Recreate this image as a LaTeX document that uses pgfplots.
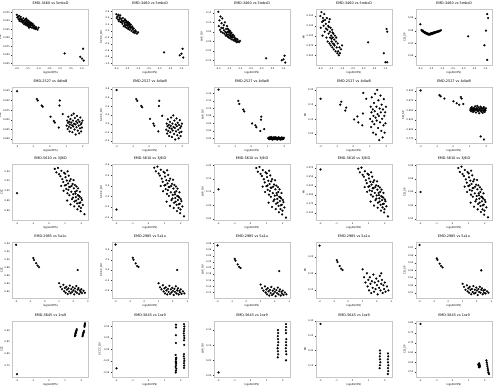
\documentclass[border=0pt]{standalone}
\usepackage{fontspec}
\setmainfont{DejaVu Sans}
\usepackage{pgfplots}
\pgfplotsset{compat=1.18}
\pgfplotsset{
  panel/.style={
    scale only axis, width=152pt, height=112pt, anchor=north west,
    axis line style={black!22, line width=0.5pt},
    tick style={black!80, line width=0.4pt},
    major tick length=2pt, tick align=outside,
    xtick pos=left, ytick pos=left,
    /pgf/number format/assume math mode=true,
    scaled ticks=false,
    ticklabel style={font=\fontsize{4.6}{5.5}\selectfont},
    label style={font=\fontsize{5.2}{6}\selectfont},
    title style={font=\fontsize{6.8}{8}\selectfont, yshift=-1pt},
    xlabel={log(AUCPS)},
    xlabel style={yshift=3pt}, ylabel style={yshift=-3pt},
    cycle list={{only marks, mark=*, mark size=0.6pt, black, mark options={solid, fill=black, draw=none}}},
  },
  xp/.style={xticklabel style={/pgf/number format/.cd, fixed, fixed zerofill, precision=#1}},
  yp/.style={yticklabel style={/pgf/number format/.cd, fixed, fixed zerofill, precision=#1}},
  rowone/.style={xmin=-2.2, xmax=1.3, xtick={-2,-1.5,-1,-0.5,0,0.5,1}, xp=1},
  rowgen/.style={xmin=-2.28, xmax=2.35, xtick={-2,-1,0,1,2}, xp=0},
}
\begin{document}
\begin{tikzpicture}
\useasboundingbox (0pt,0pt) rectangle (988pt,772pt);
% ================= ROW 1 =================
\begin{axis}[panel, rowone, at={(25pt,754pt)}, title={EMD-3460 vs 5mbxD}, ylabel={CCC},
  ymin=0.82, ymax=0.985, ytick={0.825,0.85,0.875,0.9,0.925,0.95,0.975}, yp=3]
\addplot coordinates {(-2.00,0.968) (-1.98,0.960) (-1.95,0.962) (-1.92,0.955) (-1.90,0.965) (-1.88,0.950) (-1.85,0.958) (-1.82,0.962) (-1.80,0.948) (-1.78,0.955) (-1.75,0.952) (-1.72,0.944) (-1.70,0.958) (-1.68,0.950) (-1.66,0.940) (-1.64,0.952) (-1.62,0.946) (-1.60,0.955) (-1.58,0.938) (-1.56,0.948) (-1.55,0.942) (-1.53,0.952) (-1.52,0.936) (-1.50,0.945) (-1.48,0.940) (-1.46,0.950) (-1.45,0.934) (-1.43,0.944) (-1.42,0.938) (-1.40,0.946) (-1.38,0.932) (-1.36,0.940) (-1.35,0.936) (-1.33,0.944) (-1.30,0.930) (-1.28,0.938) (-1.25,0.934) (-1.22,0.928) (-1.20,0.936) (-1.18,0.930) (-1.15,0.926) (-1.12,0.932) (-1.10,0.928) (-1.05,0.924) (-1.00,0.930)
(-1.86,0.953) (-1.74,0.947) (-1.61,0.942) (-1.49,0.951) (-1.37,0.944) (-1.27,0.941) (-1.44,0.930) (-1.57,0.957)
(0.20,0.854) (1.05,0.868) (0.92,0.844) (1.00,0.839) (1.08,0.833)};
\end{axis}
\begin{axis}[panel, rowone, at={(224pt,754pt)}, title={EMD-3460 vs 5mbxD}, ylabel={SCCC\_OV},
  ymin=-1.05, ymax=0.68, ytick={-1,-0.8,-0.6,-0.4,-0.2,0,0.2,0.4,0.6}, yp=1]
\addplot coordinates {(-2.00,0.52) (-1.98,0.40) (-1.95,0.45) (-1.92,0.35) (-1.90,0.50) (-1.88,0.30) (-1.85,0.42) (-1.82,0.48) (-1.80,0.28) (-1.78,0.38) (-1.75,0.33) (-1.72,0.22) (-1.70,0.40) (-1.68,0.30) (-1.66,0.15) (-1.64,0.32) (-1.62,0.25) (-1.60,0.36) (-1.58,0.12) (-1.56,0.26) (-1.55,0.18) (-1.53,0.30) (-1.52,0.10) (-1.50,0.22) (-1.48,0.16) (-1.46,0.28) (-1.45,0.06) (-1.43,0.20) (-1.42,0.12) (-1.40,0.24) (-1.38,0.04) (-1.36,0.15) (-1.35,0.10) (-1.33,0.20) (-1.30,0.00) (-1.28,0.10) (-1.25,0.05) (-1.22,-0.04) (-1.20,0.08) (-1.18,0.00) (-1.15,-0.06) (-1.12,0.02) (-1.10,-0.02) (-1.05,-0.08) (-1.00,-0.04)
(-1.86,0.36) (-1.74,0.27) (-1.61,0.19) (-1.49,0.26) (-1.37,0.18) (-1.27,0.14) (-1.44,0.09) (-1.57,0.33)
(0.20,-0.66) (1.05,-0.55) (0.92,-0.75) (1.00,-0.70) (1.08,-0.82)};
\end{axis}
\begin{axis}[panel, rowone, at={(428pt,754pt)}, title={EMD-3460 vs 5mbxD}, ylabel={LAP\_OV},
  ymin=-0.125, ymax=0.17, ytick={-0.1,-0.05,0,0.05,0.1,0.15}, yp=2]
\addplot coordinates {(-2.00,0.155) (-1.98,0.080) (-1.95,0.110) (-1.92,0.060) (-1.90,0.130) (-1.88,0.050) (-1.85,0.095) (-1.82,0.120) (-1.80,0.045) (-1.78,0.070) (-1.75,0.085) (-1.72,0.040) (-1.70,0.100) (-1.68,0.050) (-1.66,0.030) (-1.64,0.065) (-1.62,0.045) (-1.60,0.080) (-1.58,0.025) (-1.56,0.050) (-1.55,0.035) (-1.53,0.060) (-1.52,0.020) (-1.50,0.045) (-1.48,0.030) (-1.46,0.055) (-1.45,0.015) (-1.43,0.040) (-1.42,0.025) (-1.40,0.045) (-1.38,0.010) (-1.36,0.030) (-1.35,0.020) (-1.33,0.035) (-1.30,0.005) (-1.28,0.020) (-1.25,0.010) (-1.22,0.000) (-1.20,0.015) (-1.18,0.005) (-1.15,-0.005) (-1.12,0.010) (-1.10,0.000) (-1.05,-0.005) (-1.00,0.002)
(-1.86,0.070) (-1.74,0.058) (-1.61,0.036) (-1.49,0.052) (-1.37,0.022) (-1.27,0.028) (-1.44,0.034) (-1.57,0.066)
(0.20,-0.090) (1.05,-0.076) (0.92,-0.100) (1.00,-0.095) (1.08,-0.112)};
\end{axis}
\begin{axis}[panel, rowone, at={(632pt,754pt)}, title={EMD-3460 vs 5mbxD}, ylabel={MI},
  ymin=0.025, ymax=0.168, ytick={0.05,0.075,0.1,0.125,0.15}, yp=3]
\addplot coordinates {(-2.00,0.150) (-1.98,0.120) (-1.95,0.160) (-1.92,0.135) (-1.90,0.100) (-1.88,0.145) (-1.85,0.125) (-1.82,0.155) (-1.80,0.110) (-1.78,0.140) (-1.75,0.130) (-1.72,0.095) (-1.70,0.145) (-1.68,0.115) (-1.66,0.085) (-1.64,0.125) (-1.62,0.105) (-1.60,0.135) (-1.58,0.080) (-1.56,0.110) (-1.55,0.095) (-1.53,0.120) (-1.52,0.075) (-1.50,0.100) (-1.48,0.085) (-1.46,0.115) (-1.45,0.070) (-1.43,0.095) (-1.42,0.080) (-1.40,0.105) (-1.38,0.065) (-1.36,0.090) (-1.35,0.075) (-1.33,0.100) (-1.30,0.060) (-1.28,0.085) (-1.25,0.070) (-1.22,0.055) (-1.20,0.080) (-1.18,0.060) (-1.15,0.050) (-1.12,0.070) (-1.10,0.055) (-1.05,0.065) (-1.00,0.075)
(-1.86,0.138) (-1.74,0.118) (-1.61,0.122) (-1.49,0.092) (-1.37,0.078) (-1.27,0.095) (-1.44,0.108) (-1.57,0.142)
(0.20,0.083) (1.05,0.117) (1.08,0.110) (0.92,0.055) (1.00,0.032) (1.08,0.032)};
\end{axis}
\begin{axis}[panel, rowone, at={(832pt,754pt)}, title={EMD-3460 vs 5mbxD}, ylabel={CD\_SP},
  ymin=0.953, ymax=0.997, ytick={0.96,0.97,0.98,0.99}, yp=2]
\addplot coordinates {(-2.00,0.9850) (-1.95,0.9805) (-1.92,0.9800) (-1.90,0.9795) (-1.88,0.9800) (-1.85,0.9790) (-1.82,0.9785) (-1.80,0.9790) (-1.78,0.9780) (-1.75,0.9785) (-1.72,0.9775) (-1.70,0.9780) (-1.68,0.9772) (-1.66,0.9778) (-1.64,0.9770) (-1.62,0.9775) (-1.60,0.9768) (-1.58,0.9774) (-1.56,0.9770) (-1.55,0.9776) (-1.53,0.9771) (-1.52,0.9778) (-1.50,0.9773) (-1.48,0.9779) (-1.46,0.9775) (-1.45,0.9781) (-1.43,0.9777) (-1.42,0.9783) (-1.40,0.9779) (-1.38,0.9785) (-1.36,0.9781) (-1.35,0.9787) (-1.33,0.9783) (-1.30,0.9789) (-1.28,0.9786) (-1.25,0.9792) (-1.22,0.9789) (-1.20,0.9794) (-1.18,0.9792) (-1.15,0.9797) (-1.12,0.9795) (-1.10,0.9800) (-1.05,0.9803)
(0.20,0.9755) (1.08,0.9930) (1.12,0.9900) (1.02,0.9800) (0.95,0.9685) (1.08,0.9570)};
\end{axis}
% ================= ROW 2 =================
\begin{axis}[panel, rowgen, at={(25pt,598pt)}, title={EMD-2527 vs 4dlwB}, ylabel={CCC},
  ymin=0.79, ymax=0.935, ytick={0.8,0.825,0.85,0.875,0.9,0.925}, yp=3]
\addplot coordinates {(-2.0,0.924) (-0.8,0.904) (-0.74,0.900) (-0.5,0.887) (-0.44,0.884) (0.6,0.900) (0.58,0.887) (0.04,0.858) (0.24,0.847) (0.3,0.843) (0.54,0.830) (0.78,0.865)
(1.02,0.835) (1.05,0.848) (1.08,0.826) (1.10,0.842) (1.12,0.858) (1.15,0.832) (1.18,0.845) (1.20,0.820) (1.22,0.838) (1.25,0.852) (1.27,0.829) (1.30,0.843) (1.32,0.862) (1.35,0.836) (1.37,0.818) (1.40,0.848) (1.42,0.833) (1.45,0.866) (1.47,0.840) (1.50,0.825) (1.52,0.855) (1.55,0.838) (1.57,0.812) (1.60,0.846) (1.62,0.831) (1.65,0.860) (1.67,0.842) (1.70,0.822) (1.72,0.850) (1.75,0.835) (1.78,0.815) (1.80,0.845) (1.83,0.828) (1.85,0.856) (1.88,0.838) (1.90,0.820) (1.93,0.842) (1.95,0.830) (1.98,0.848)};
\end{axis}
\begin{axis}[panel, rowgen, at={(224pt,598pt)}, title={EMD-2527 vs 4dlwB}, ylabel={SCCC\_OV},
  ymin=-0.45, ymax=0.85, ytick={-0.4,-0.2,0,0.2,0.4,0.6,0.8}, yp=1]
\addplot coordinates {(-2.0,0.78) (-0.8,0.57) (-0.74,0.53) (-0.5,0.41) (-0.44,0.38) (0.6,0.53) (0.58,0.41) (0.04,0.11) (0.24,0.00) (0.3,-0.05) (0.54,-0.18) (0.78,0.18)
(1.02,-0.14) (1.05,0.00) (1.08,-0.23) (1.10,-0.06) (1.12,0.10) (1.15,-0.17) (1.18,-0.03) (1.20,-0.29) (1.22,-0.10) (1.25,0.04) (1.27,-0.20) (1.30,-0.05) (1.32,0.14) (1.35,-0.12) (1.37,-0.31) (1.40,0.00) (1.42,-0.16) (1.45,0.19) (1.47,-0.08) (1.50,-0.24) (1.52,0.07) (1.55,-0.10) (1.57,-0.37) (1.60,-0.02) (1.62,-0.18) (1.65,0.12) (1.67,-0.06) (1.70,-0.27) (1.72,0.02) (1.75,-0.14) (1.78,-0.34) (1.80,-0.03) (1.83,-0.21) (1.85,0.08) (1.88,-0.10) (1.90,-0.29) (1.93,-0.06) (1.95,-0.19) (1.98,0.00)};
\end{axis}
\begin{axis}[panel, rowgen, at={(428pt,598pt)}, title={EMD-2527 vs 4dlwB}, ylabel={LAP\_OV},
  ymin=0.008, ymax=0.157, ytick={0.02,0.04,0.06,0.08,0.1,0.12,0.14}, yp=2]
\addplot coordinates {(-2.0,0.150) (-0.8,0.120) (-0.74,0.112) (-0.5,0.097) (-0.44,0.092) (0.6,0.078) (0.58,0.070) (0.04,0.060) (0.24,0.055) (0.3,0.050) (0.54,0.040) (0.78,0.045)
(1.02,0.021) (1.05,0.019) (1.08,0.023) (1.10,0.020) (1.12,0.018) (1.15,0.022) (1.18,0.020) (1.20,0.024) (1.22,0.019) (1.25,0.021) (1.27,0.017) (1.30,0.022) (1.32,0.020) (1.35,0.023) (1.37,0.018) (1.40,0.021) (1.42,0.019) (1.45,0.024) (1.47,0.020) (1.50,0.018) (1.52,0.022) (1.55,0.020) (1.57,0.017) (1.60,0.021) (1.62,0.019) (1.65,0.023) (1.67,0.020) (1.70,0.018) (1.72,0.022) (1.75,0.020) (1.78,0.017) (1.80,0.021) (1.83,0.019) (1.85,0.023) (1.88,0.020) (1.90,0.018) (1.93,0.021) (1.95,0.019) (1.98,0.022)};
\end{axis}
\begin{axis}[panel, rowgen, at={(632pt,598pt)}, title={EMD-2527 vs 4dlwB}, ylabel={MI},
  ymin=0.02, ymax=0.21, ytick={0.05,0.1,0.15,0.2}, yp=2]
\addplot coordinates {(-2.0,0.170) (-0.8,0.150) (-0.74,0.160) (-0.5,0.130) (-0.44,0.140) (0.6,0.190) (0.58,0.120) (0.04,0.100) (0.24,0.110) (0.3,0.090) (0.54,0.080) (0.78,0.170)
(1.02,0.102) (1.05,0.143) (1.08,0.074) (1.10,0.124) (1.12,0.175) (1.15,0.093) (1.18,0.134) (1.20,0.055) (1.22,0.112) (1.25,0.156) (1.27,0.084) (1.30,0.128) (1.32,0.187) (1.35,0.106) (1.37,0.049) (1.40,0.143) (1.42,0.096) (1.45,0.200) (1.47,0.118) (1.50,0.071) (1.52,0.165) (1.55,0.112) (1.57,0.030) (1.60,0.137) (1.62,0.090) (1.65,0.181) (1.67,0.124) (1.70,0.061) (1.72,0.150) (1.75,0.102) (1.78,0.039) (1.80,0.134) (1.83,0.080) (1.85,0.169) (1.88,0.112) (1.90,0.055) (1.93,0.124) (1.95,0.087) (1.98,0.143)};
\end{axis}
\begin{axis}[panel, rowgen, at={(832pt,598pt)}, title={EMD-2527 vs 4dlwB}, ylabel={CD\_SP},
  ymin=0.765, ymax=0.91, ytick={0.775,0.8,0.825,0.85,0.875,0.9}, yp=3]
\addplot coordinates {(-2.0,0.901) (-0.85,0.889) (-0.78,0.886) (-0.55,0.880) (0.0,0.873) (0.45,0.884) (0.5,0.880) (0.35,0.864) (0.6,0.866) (0.2,0.868)
(1.02,0.850) (1.05,0.855) (1.08,0.847) (1.10,0.853) (1.12,0.858) (1.15,0.849) (1.18,0.854) (1.20,0.845) (1.22,0.851) (1.25,0.856) (1.27,0.848) (1.30,0.853) (1.32,0.860) (1.35,0.851) (1.37,0.844) (1.40,0.855) (1.42,0.850) (1.45,0.861) (1.47,0.852) (1.50,0.847) (1.52,0.857) (1.55,0.851) (1.57,0.842) (1.60,0.854) (1.62,0.849) (1.65,0.859) (1.67,0.853) (1.70,0.846) (1.72,0.856) (1.75,0.850) (1.78,0.843) (1.80,0.854) (1.83,0.848) (1.85,0.858) (1.88,0.851) (1.90,0.845) (1.93,0.853) (1.95,0.849) (1.98,0.855)
(1.66,0.782) (1.86,0.774)};
\end{axis}
% ================= ROW 3 =================
\begin{axis}[panel, rowgen, xmax=2.45, at={(25pt,444pt)}, title={EMD-5610 vs 3j9iD}, ylabel={CCC},
  ymin=0.84, ymax=0.955, ytick={0.86,0.88,0.9,0.92,0.94}, yp=2]
\addplot coordinates {(-2.0,0.895)
(0.35,0.945) (0.45,0.938) (0.55,0.947) (0.62,0.934) (0.70,0.930) (0.76,0.941) (0.82,0.924) (0.88,0.918) (0.93,0.937) (0.98,0.911) (1.02,0.928) (1.06,0.904) (1.10,0.921) (1.14,0.895) (1.18,0.915) (1.22,0.931) (1.26,0.891) (1.30,0.908) (1.34,0.924) (1.38,0.898) (1.42,0.883) (1.46,0.914) (1.50,0.893) (1.54,0.905) (1.58,0.878) (1.62,0.898) (1.66,0.887) (1.70,0.909) (1.74,0.874) (1.78,0.891) (1.82,0.883) (1.86,0.868) (1.90,0.888) (1.94,0.876) (1.98,0.865) (2.04,0.881) (2.10,0.871) (2.20,0.852)
(1.05,0.912) (1.12,0.880) (1.20,0.902) (1.28,0.920) (1.33,0.872) (1.40,0.910) (1.48,0.886) (1.52,0.922) (1.56,0.868) (1.60,0.912) (1.64,0.894) (1.68,0.880) (1.72,0.900) (1.76,0.862) (1.80,0.905) (1.84,0.890) (1.88,0.875) (1.92,0.898) (1.96,0.858) (2.00,0.885) (0.75,0.910) (0.90,0.900) (1.00,0.935) (1.15,0.940) (1.25,0.908)};
\end{axis}
\begin{axis}[panel, rowgen, xmax=2.45, at={(224pt,444pt)}, title={EMD-5610 vs 3j9iD}, ylabel={SCCC\_OV},
  ymin=-0.45, ymax=0.62, ytick={-0.4,-0.2,0,0.2,0.4,0.6}, yp=1]
\addplot coordinates {(-2.0,-0.25)
(0.35,0.55) (0.45,0.48) (0.55,0.57) (0.62,0.44) (0.70,0.40) (0.76,0.51) (0.82,0.34) (0.88,0.28) (0.93,0.47) (0.98,0.21) (1.02,0.38) (1.06,0.14) (1.10,0.31) (1.14,0.05) (1.18,0.25) (1.22,0.41) (1.26,0.01) (1.30,0.18) (1.34,0.34) (1.38,0.08) (1.42,-0.07) (1.46,0.24) (1.50,0.03) (1.54,0.15) (1.58,-0.12) (1.62,0.08) (1.66,-0.03) (1.70,0.19) (1.74,-0.16) (1.78,0.01) (1.82,-0.07) (1.86,-0.22) (1.90,-0.02) (1.94,-0.14) (1.98,-0.25) (2.04,-0.09) (2.10,-0.19) (2.20,-0.38)
(1.05,0.22) (1.12,-0.10) (1.20,0.12) (1.28,0.30) (1.33,-0.18) (1.40,0.20) (1.48,-0.04) (1.52,0.32) (1.56,-0.22) (1.60,0.22) (1.64,0.04) (1.68,-0.10) (1.72,0.10) (1.76,-0.28) (1.80,0.15) (1.84,0.00) (1.88,-0.15) (1.92,0.08) (1.96,-0.32) (2.00,-0.05) (0.75,0.20) (0.90,0.10) (1.00,0.45) (1.15,0.50) (1.25,0.18)};
\end{axis}
\begin{axis}[panel, rowgen, xmax=2.45, at={(428pt,444pt)}, title={EMD-5610 vs 3j9iD}, ylabel={LAP\_OV},
  ymin=-0.005, ymax=0.205, ytick={0,0.05,0.1,0.15,0.2}, yp=2]
\addplot coordinates {(-2.0,0.110)
(0.35,0.190) (0.45,0.176) (0.55,0.194) (0.62,0.168) (0.70,0.160) (0.76,0.182) (0.82,0.148) (0.88,0.136) (0.93,0.174) (0.98,0.122) (1.02,0.156) (1.06,0.108) (1.10,0.142) (1.14,0.090) (1.18,0.130) (1.22,0.162) (1.26,0.082) (1.30,0.116) (1.34,0.148) (1.38,0.096) (1.42,0.066) (1.46,0.128) (1.50,0.086) (1.54,0.110) (1.58,0.056) (1.62,0.096) (1.66,0.074) (1.70,0.118) (1.74,0.048) (1.78,0.082) (1.82,0.066) (1.86,0.036) (1.90,0.076) (1.94,0.052) (1.98,0.030) (2.04,0.062) (2.10,0.042) (2.20,0.004)
(1.05,0.124) (1.12,0.060) (1.20,0.104) (1.28,0.140) (1.33,0.044) (1.40,0.120) (1.48,0.072) (1.52,0.144) (1.56,0.036) (1.60,0.124) (1.64,0.088) (1.68,0.060) (1.72,0.100) (1.76,0.024) (1.80,0.110) (1.84,0.080) (1.88,0.050) (1.92,0.096) (1.96,0.016) (2.00,0.070) (0.75,0.120) (0.90,0.100) (1.00,0.170) (1.15,0.180) (1.25,0.116)};
\end{axis}
\begin{axis}[panel, rowgen, xmax=2.45, at={(632pt,444pt)}, title={EMD-5610 vs 3j9iD}, ylabel={MI},
  ymin=0.13, ymax=0.285, ytick={0.15,0.175,0.2,0.225,0.25,0.275}, yp=3]
\addplot coordinates {(-2.0,0.270)
(0.35,0.272) (0.45,0.262) (0.55,0.275) (0.62,0.255) (0.70,0.250) (0.76,0.265) (0.82,0.240) (0.88,0.232) (0.93,0.258) (0.98,0.222) (1.02,0.245) (1.06,0.212) (1.10,0.236) (1.14,0.200) (1.18,0.228) (1.22,0.250) (1.26,0.195) (1.30,0.218) (1.34,0.240) (1.38,0.205) (1.42,0.185) (1.46,0.226) (1.50,0.198) (1.54,0.214) (1.58,0.178) (1.62,0.205) (1.66,0.190) (1.70,0.220) (1.74,0.172) (1.78,0.196) (1.82,0.185) (1.86,0.165) (1.90,0.192) (1.94,0.175) (1.98,0.160) (2.04,0.182) (2.10,0.168) (2.20,0.140)
(1.05,0.224) (1.12,0.181) (1.20,0.210) (1.28,0.235) (1.33,0.170) (1.40,0.221) (1.48,0.189) (1.52,0.237) (1.56,0.164) (1.60,0.224) (1.64,0.199) (1.68,0.181) (1.72,0.208) (1.76,0.156) (1.80,0.214) (1.84,0.194) (1.88,0.174) (1.92,0.205) (1.96,0.151) (2.00,0.187) (0.75,0.221) (0.90,0.208) (1.00,0.255) (1.15,0.262) (1.25,0.218)};
\end{axis}
\begin{axis}[panel, rowgen, xmax=2.45, at={(832pt,444pt)}, title={EMD-5610 vs 3j9iD}, ylabel={CD\_SP},
  ymin=0.898, ymax=0.982, ytick={0.9,0.92,0.94,0.96,0.98}, yp=2]
\addplot coordinates {(-2.0,0.940)
(0.35,0.976) (0.45,0.970) (0.55,0.978) (0.62,0.967) (0.70,0.964) (0.76,0.973) (0.82,0.959) (0.88,0.954) (0.93,0.970) (0.98,0.949) (1.02,0.962) (1.06,0.943) (1.10,0.957) (1.14,0.936) (1.18,0.952) (1.22,0.965) (1.26,0.933) (1.30,0.946) (1.34,0.959) (1.38,0.938) (1.42,0.926) (1.46,0.951) (1.50,0.934) (1.54,0.944) (1.58,0.922) (1.62,0.938) (1.66,0.930) (1.70,0.947) (1.74,0.919) (1.78,0.933) (1.82,0.926) (1.86,0.914) (1.90,0.930) (1.94,0.921) (1.98,0.912) (2.04,0.925) (2.10,0.917) (2.20,0.902)
(1.05,0.950) (1.12,0.924) (1.20,0.942) (1.28,0.956) (1.33,0.918) (1.40,0.948) (1.48,0.929) (1.52,0.958) (1.56,0.914) (1.60,0.950) (1.64,0.935) (1.68,0.924) (1.72,0.940) (1.76,0.910) (1.80,0.944) (1.84,0.932) (1.88,0.920) (1.92,0.938) (1.96,0.906) (2.00,0.928) (0.75,0.948) (0.90,0.940) (1.00,0.968) (1.15,0.972) (1.25,0.946)};
\end{axis}
% ================= ROW 4 =================
\begin{axis}[panel, at={(25pt,288pt)}, xmin=-2.25, xmax=3.05, xtick={-2,-1,0,1,2,3}, xp=0, title={EMD-2985 vs 5a1u}, ylabel={CCC},
  ymin=0.805, ymax=0.945, ytick={0.82,0.84,0.86,0.88,0.9,0.92,0.94}, yp=2]
\addplot coordinates {(-2.0,0.938) (-0.8,0.905) (-0.75,0.900) (-0.6,0.892) (-0.5,0.886) (-0.4,0.882) (2.3,0.875)
(1.00,0.842) (1.10,0.833) (1.20,0.827) (1.30,0.838) (1.35,0.822) (1.40,0.830) (1.45,0.818) (1.50,0.833) (1.55,0.826) (1.60,0.815) (1.65,0.829) (1.70,0.821) (1.75,0.836) (1.80,0.817) (1.85,0.827) (1.90,0.820) (1.95,0.832) (2.00,0.824) (2.05,0.814) (2.10,0.829) (2.15,0.821) (2.20,0.835) (2.25,0.818) (2.30,0.826) (2.35,0.830) (2.40,0.815) (2.45,0.824) (2.50,0.820) (2.55,0.827) (2.60,0.817) (2.70,0.823) (2.80,0.818)};
\end{axis}
\begin{axis}[panel, at={(224pt,288pt)}, xmin=-2.25, xmax=3.05, xtick={-2,-1,0,1,2,3}, xp=0, title={EMD-2985 vs 5a1u}, ylabel={SCCC\_OV},
  ymin=-0.55, ymax=0.55, ytick={-0.4,-0.2,0,0.2,0.4}, yp=1]
\addplot coordinates {(-2.0,0.50) (-0.8,0.24) (-0.75,0.20) (-0.6,0.13) (-0.5,0.08) (-0.4,0.06) (2.3,0.00)
(1.00,-0.26) (1.10,-0.34) (1.20,-0.38) (1.30,-0.30) (1.35,-0.42) (1.40,-0.36) (1.45,-0.46) (1.50,-0.34) (1.55,-0.40) (1.60,-0.48) (1.65,-0.37) (1.70,-0.43) (1.75,-0.31) (1.80,-0.47) (1.85,-0.38) (1.90,-0.44) (1.95,-0.35) (2.00,-0.41) (2.05,-0.49) (2.10,-0.37) (2.15,-0.43) (2.20,-0.32) (2.25,-0.46) (2.30,-0.40) (2.35,-0.36) (2.40,-0.48) (2.45,-0.41) (2.50,-0.44) (2.55,-0.38) (2.60,-0.47) (2.70,-0.42) (2.80,-0.46)};
\end{axis}
\begin{axis}[panel, at={(428pt,288pt)}, xmin=-2.25, xmax=3.05, xtick={-2,-1,0,1,2,3}, xp=0, title={EMD-2985 vs 5a1u}, ylabel={LAP\_OV},
  ymin=0.102, ymax=0.285, ytick={0.12,0.14,0.16,0.18,0.2,0.22,0.24,0.26,0.28}, yp=2]
\addplot coordinates {(-2.0,0.274) (-0.8,0.230) (-0.75,0.224) (-0.6,0.212) (-0.5,0.204) (-0.4,0.200) (2.3,0.190)
(1.00,0.146) (1.10,0.134) (1.20,0.126) (1.30,0.140) (1.35,0.120) (1.40,0.130) (1.45,0.114) (1.50,0.134) (1.55,0.124) (1.60,0.110) (1.65,0.128) (1.70,0.118) (1.75,0.138) (1.80,0.112) (1.85,0.126) (1.90,0.116) (1.95,0.132) (2.00,0.122) (2.05,0.108) (2.10,0.128) (2.15,0.118) (2.20,0.136) (2.25,0.114) (2.30,0.124) (2.35,0.130) (2.40,0.110) (2.45,0.122) (2.50,0.116) (2.55,0.126) (2.60,0.112) (2.70,0.120) (2.80,0.114)};
\end{axis}
\begin{axis}[panel, at={(632pt,288pt)}, xmin=-2.25, xmax=3.05, xtick={-2,-1,0,1,2,3}, xp=0, title={EMD-2985 vs 5a1u}, ylabel={MI},
  ymin=0.125, ymax=0.295, ytick={0.15,0.2,0.25}, yp=2]
\addplot coordinates {(-2.0,0.284) (-0.8,0.240) (-0.75,0.234) (-0.6,0.222) (-0.5,0.214) (-0.4,0.210) (2.3,0.200)
(1.00,0.212) (1.10,0.188) (1.20,0.172) (1.30,0.200) (1.35,0.160) (1.40,0.180) (1.45,0.148) (1.50,0.188) (1.55,0.168) (1.60,0.140) (1.65,0.176) (1.70,0.156) (1.75,0.196) (1.80,0.144) (1.85,0.172) (1.90,0.152) (1.95,0.184) (2.00,0.164) (2.05,0.136) (2.10,0.176) (2.15,0.156) (2.20,0.192) (2.25,0.148) (2.30,0.168) (2.35,0.180) (2.40,0.140) (2.45,0.164) (2.50,0.152) (2.55,0.172) (2.60,0.144) (2.70,0.160) (2.80,0.148)};
\end{axis}
\begin{axis}[panel, at={(832pt,288pt)}, xmin=-2.25, xmax=3.05, xtick={-2,-1,0,1,2,3}, xp=0, title={EMD-2985 vs 5a1u}, ylabel={CD\_SP},
  ymin=0.903, ymax=0.978, ytick={0.91,0.92,0.93,0.94,0.95,0.96,0.97}, yp=2]
\addplot coordinates {(-2.0,0.974) (-0.8,0.956) (-0.75,0.954) (-0.6,0.949) (-0.5,0.946) (-0.4,0.944) (2.3,0.940)
(1.00,0.922) (1.10,0.918) (1.20,0.914) (1.30,0.920) (1.35,0.912) (1.40,0.916) (1.45,0.910) (1.50,0.918) (1.55,0.914) (1.60,0.908) (1.65,0.915) (1.70,0.911) (1.75,0.919) (1.80,0.909) (1.85,0.914) (1.90,0.910) (1.95,0.917) (2.00,0.913) (2.05,0.907) (2.10,0.915) (2.15,0.911) (2.20,0.918) (2.25,0.910) (2.30,0.914) (2.35,0.916) (2.40,0.908) (2.45,0.913) (2.50,0.910) (2.55,0.914) (2.60,0.909) (2.70,0.912) (2.80,0.910)};
\end{axis}
% ================= ROW 5 =================
\begin{axis}[panel, rowgen, xmax=2.45, at={(25pt,130pt)}, title={EMD-5645 vs 1ra9}, ylabel={CCC},
  ymin=0.70, ymax=0.94, ytick={0.75,0.8,0.85,0.9}, yp=2]
\addplot coordinates {(-2.0,0.712)
(1.60,0.875) (1.62,0.880) (1.64,0.885) (1.65,0.888) (1.66,0.890) (1.68,0.895) (1.70,0.900) (1.72,0.905) (1.63,0.878) (1.67,0.893)
(2.08,0.875) (2.10,0.880) (2.12,0.886) (2.14,0.890) (2.15,0.893) (2.17,0.898) (2.20,0.915) (2.21,0.920) (2.22,0.925) (2.23,0.930)};
\end{axis}
\begin{axis}[panel, rowgen, xmax=2.45, at={(224pt,130pt)}, title={EMD-5645 vs 1ra9}, ylabel={SCCC\_OV},
  ymin=-0.6, ymax=0.62, ytick={-0.5,-0.25,0,0.25,0.5}, yp=2]
\addplot coordinates {(-2.0,-0.41)
(1.70,0.54) (1.70,0.48) (1.70,0.31) (1.70,0.14) (1.68,-0.12) (1.72,-0.18) (1.70,-0.22) (1.69,-0.26) (1.71,-0.30) (1.70,-0.34) (1.68,-0.38) (1.72,-0.42) (1.70,-0.46) (1.69,-0.50) (1.71,-0.20) (1.70,-0.28)
(2.20,0.55) (2.22,0.50) (2.21,0.45) (2.20,0.40) (2.19,0.35) (2.21,0.30) (2.22,0.25) (2.20,0.20) (2.21,0.10) (2.20,-0.10) (2.19,-0.15) (2.21,-0.20) (2.22,-0.25) (2.20,-0.30) (2.21,-0.35) (2.20,-0.40)};
\end{axis}
\begin{axis}[panel, rowgen, xmax=2.45, at={(428pt,130pt)}, title={EMD-5645 vs 1ra9}, ylabel={LAP\_OV},
  ymin=-0.005, ymax=0.18, ytick={0,0.05,0.1,0.15}, yp=2]
\addplot coordinates {(-2.0,0.010)
(1.70,0.150) (1.71,0.140) (1.69,0.130) (1.70,0.120) (1.72,0.110) (1.70,0.100) (1.68,0.090) (1.70,0.080) (1.71,0.070) (1.69,0.060)
(2.20,0.170) (2.21,0.160) (2.19,0.150) (2.20,0.140) (2.22,0.120) (2.20,0.110) (2.21,0.100) (2.19,0.090) (2.20,0.080) (2.22,0.070) (2.20,0.050)};
\end{axis}
\begin{axis}[panel, rowgen, xmax=2.45, at={(632pt,130pt)}, title={EMD-5645 vs 1ra9}, ylabel={MI},
  ymin=0.11, ymax=0.30, ytick={0.15,0.2,0.25,0.3}, yp=2]
\addplot coordinates {(-2.0,0.290)
(1.70,0.200) (1.71,0.190) (1.69,0.180) (1.70,0.170) (1.72,0.160) (1.70,0.150) (1.68,0.140)
(2.20,0.190) (2.21,0.180) (2.19,0.170) (2.20,0.160) (2.22,0.150) (2.20,0.140) (2.21,0.130) (2.19,0.120)};
\end{axis}
\begin{axis}[panel, rowgen, xmax=2.45, at={(832pt,130pt)}, title={EMD-5645 vs 1ra9}, ylabel={CD\_SP},
  ymin=0.525, ymax=0.81, ytick={0.55,0.6,0.65,0.7,0.75,0.8}, yp=2]
\addplot coordinates {(-2.0,0.795)
(1.60,0.590) (1.62,0.585) (1.64,0.580) (1.66,0.590) (1.68,0.585) (1.70,0.580) (1.65,0.595) (1.63,0.575) (1.67,0.575)
(2.10,0.610) (2.12,0.600) (2.14,0.590) (2.16,0.580) (2.18,0.570) (2.20,0.560) (2.22,0.550) (2.24,0.545) (2.26,0.540)};
\end{axis}
\end{tikzpicture}
\end{document}
